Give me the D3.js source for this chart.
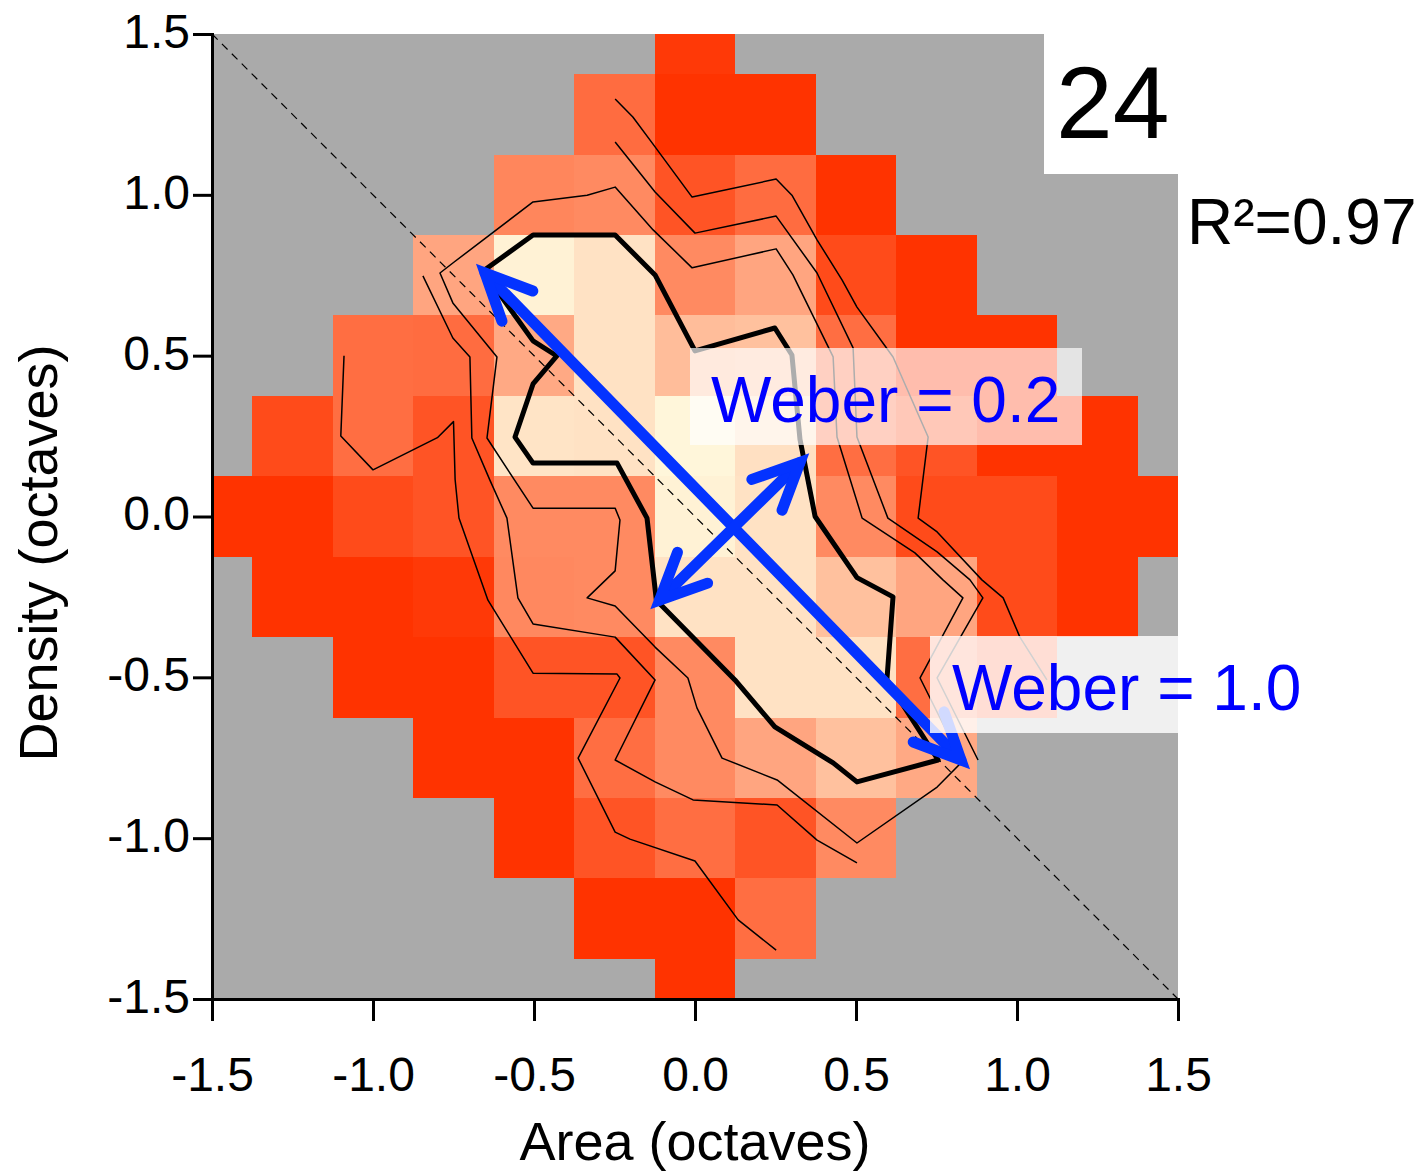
<!DOCTYPE html>
<html>
<head>
<meta charset="utf-8">
<script src="https://cdn.jsdelivr.net/npm/d3@7"></script>
<style>
body { margin: 0; background: #fff; }
text { font-family: "Liberation Sans", Arial, sans-serif; }
</style>
</head>
<body>
<div id="chart"></div>
<script>
// grid of cell centres (octaves)
const xCenters = [-1.5, -1.25, -1.0, -0.75, -0.5, -0.25, 0, 0.25, 0.5, 0.75, 1.0, 1.25, 1.5];
const yCenters = [1.5, 1.25, 1.0, 0.75, 0.5, 0.25, 0, -0.25, -0.5, -0.75, -1.0, -1.25, -1.5];

// normalised cell values (0 = dark red, 1 = pale cream), null = no data
const n = null;
const cellValues = [
    [n, n, n, n, n, n, 0.03, n, n, n, n, n, n],
    [n, n, n, n, n, 0.29, 0, 0, n, n, n, n, n],
    [n, n, n, n, 0.42, 0.44, 0.17, 0.29, 0, n, n, n, n],
    [n, n, n, 0.58, 0.97, 0.89, 0.44, 0.58, 0.12, 0, n, n, n],
    [n, n, 0.3, 0.29, 0.6, 0.89, 0.7, 0.72, 0.3, 0, 0, n, n],
    [n, 0.12, 0.3, 0.17, 0.9, 0.89, 0.99, 0.88, 0.3, 0.17, 0, 0, n],
    [0, 0, 0.12, 0.17, 0.44, 0.44, 0.97, 0.89, 0.44, 0.12, 0.12, 0, 0],
    [n, 0, 0, 0.03, 0.43, 0.44, 0.89, 0.89, 0.72, 0.58, 0.12, 0, n],
    [n, n, 0, 0, 0.17, 0.17, 0.44, 0.89, 0.89, 0.3, 0.12, n, n],
    [n, n, n, 0, 0, 0.3, 0.44, 0.58, 0.72, 0.6, n, n, n],
    [n, n, n, n, 0, 0.17, 0.3, 0.17, 0.44, n, n, n, n],
    [n, n, n, n, n, 0, 0, 0.3, n, n, n, n, n],
    [n, n, n, n, n, n, 0, n, n, n, n, n, n]
];

const xTicks = [-1.5, -1.0, -0.5, 0, 0.5, 1.0, 1.5];
const yTicks = [-1.5, -1.0, -0.5, 0, 0.5, 1.0, 1.5];

// contour lines (area, density)
const contourOuterLeft = [[-1.09, 0.50], [-1.10, 0.25], [-1.0, 0.145], [-0.80, 0.245], [-0.75, 0.295], [-0.745, 0.115],
    [-0.733, -0.005], [-0.643, -0.26], [-0.503, -0.487], [-0.242, -0.49], [-0.233, -0.502], [-0.363, -0.751],
    [-0.248, -0.981], [-0.202, -1.003], [0.0, -1.071], [0.134, -1.254], [0.252, -1.348]];
const contourOuterRight = [[-0.248, 1.298], [-0.193, 1.242], [-0.124, 1.149], [-0.009, 0.993], [0.252, 1.049],
    [0.301, 0.999], [0.379, 0.86], [0.457, 0.735], [0.503, 0.651], [0.615, 0.496], [0.724, 0.247], [0.693, -0.005],
    [0.752, -0.048], [0.891, -0.197], [0.957, -0.253], [1.009, -0.375], [1.093, -0.508]];
const contourMidLeft = [[-0.845, 0.748], [-0.752, 0.555], [-0.699, 0.496], [-0.693, 0.244], [-0.637, 0.113],
    [-0.584, -0.005], [-0.55, -0.253], [-0.503, -0.334], [-0.248, -0.375], [-0.124, -0.508], [-0.248, -0.757],
    [-0.124, -0.825], [-0.006, -0.881], [0.255, -0.897], [0.379, -1.006], [0.503, -1.077]];
const contourMidRight = [[-0.248, 1.164], [-0.124, 1.009], [0.0, 0.881], [0.252, 0.934], [0.379, 0.757],
    [0.491, 0.524], [0.503, 0.247], [0.599, -0.005], [0.752, -0.11], [0.854, -0.197], [0.894, -0.253],
    [0.752, -0.502], [0.879, -0.757]];
const contourInner = [[-0.248, 1.024], [-0.130, 0.891], [-0.009, 0.773], [0.252, 0.832], [0.304, 0.751],
    [0.429, 0.496], [0.441, 0.247], [0.519, -0.005], [0.683, -0.113], [0.770, -0.197], [0.832, -0.253],
    [0.699, -0.502], [0.829, -0.763], [0.752, -0.841], [0.503, -1.015], [0.255, -0.819], [0.084, -0.751],
    [0.006, -0.595], [-0.022, -0.502], [-0.124, -0.406], [-0.248, -0.278], [-0.335, -0.253], [-0.248, -0.169],
    [-0.233, -0.011], [-0.248, 0.026], [-0.503, 0.026], [-0.646, 0.244], [-0.615, 0.496], [-0.752, 0.664],
    [-0.792, 0.757], [-0.752, 0.788], [-0.503, 0.978], [-0.335, 0.999]];
const contourCore = [[-0.658, 0.763], [-0.503, 0.875], [-0.248, 0.875], [-0.124, 0.751], [0.0, 0.515],
    [0.248, 0.586], [0.301, 0.502], [0.326, 0.24], [0.373, 0.0], [0.503, -0.19], [0.615, -0.25], [0.596, -0.508],
    [0.755, -0.757], [0.503, -0.825], [0.429, -0.766], [0.248, -0.654], [0.124, -0.508], [-0.12, -0.26],
    [-0.149, -0.005], [-0.242, 0.166], [-0.503, 0.166], [-0.559, 0.247], [-0.503, 0.412], [-0.429, 0.499],
    [-0.503, 0.546]];

// Weber axes (double headed arrows)
const weberArrows = [
    {from: [-0.652, 0.757], to: [0.826, -0.757]},
    {from: [-0.11, -0.26], to: [0.326, 0.168]}
];

const svgWidth = 1427;
const svgHeight = 1175;
const marginLeft = 212, marginTop = 34, plotW = 966, plotH = 965;

const svg = d3.select("#chart").append("svg")
    .attr("width", svgWidth)
    .attr("height", svgHeight);

const x = d3.scaleLinear().domain([-1.5, 1.5]).range([marginLeft, marginLeft + plotW]);
const y = d3.scaleLinear().domain([-1.5, 1.5]).range([marginTop + plotH, marginTop]);
const color = d3.interpolateRgb("#ff3300", "#fff8dc");

svg.append("clipPath").attr("id", "plot-clip")
    .append("rect")
    .attr("x", marginLeft).attr("y", marginTop)
    .attr("width", plotW).attr("height", plotH);

//grey background for missing cells
svg.append("rect")
    .attr("x", marginLeft).attr("y", marginTop)
    .attr("width", plotW).attr("height", plotH)
    .attr("fill", "#aaaaaa");

const cells = [];
yCenters.forEach((cy, i) => {
    xCenters.forEach((cx, j) => {
        if (cellValues[i][j] !== null) cells.push({cx: cx, cy: cy, v: cellValues[i][j]});
    });
});

const half = 0.125;
svg.append("g")
    .attr("clip-path", "url(#plot-clip)")
    .selectAll("rect")
    .data(cells)
    .join("rect")
    .attr("x", d => x(d.cx - half))
    .attr("y", d => y(d.cy + half))
    .attr("width", x(half) - x(-half))
    .attr("height", y(-half) - y(half))
    .attr("fill", d => color(d.v))
    .attr("shape-rendering", "crispEdges");

// identity diagonal
svg.append("line")
    .attr("x1", x(-1.5)).attr("y1", y(1.5))
    .attr("x2", x(1.5)).attr("y2", y(-1.5))
    .attr("stroke", "#000")
    .attr("stroke-width", 1.2)
    .attr("stroke-dasharray", "8,6");

const line = d3.line().x(d => x(d[0])).y(d => y(d[1]));
const closedLine = d3.line().x(d => x(d[0])).y(d => y(d[1])).curve(d3.curveLinearClosed);

const contours = svg.append("g").attr("fill", "none").attr("stroke", "#000").attr("stroke-linejoin", "round");
[contourOuterLeft, contourOuterRight, contourMidLeft, contourMidRight].forEach(c => {
    contours.append("path").attr("d", line(c)).attr("stroke-width", 1.5);
});
contours.append("path").attr("d", closedLine(contourInner)).attr("stroke-width", 1.5);
contours.append("path").attr("d", closedLine(contourCore)).attr("stroke-width", 5);

// arrows
const arrowG = svg.append("g")
    .attr("fill", "none")
    .attr("stroke", "#0433ff")
    .attr("stroke-width", 11)
    .attr("stroke-linecap", "round")
    .attr("stroke-linejoin", "miter");

function head(tip, tail) {
    const ang = Math.atan2(tail[1] - tip[1], tail[0] - tip[0]);
    const len = 51, spread = 25 * Math.PI / 180;
    const a = [tip[0] + len * Math.cos(ang - spread), tip[1] + len * Math.sin(ang - spread)];
    const b = [tip[0] + len * Math.cos(ang + spread), tip[1] + len * Math.sin(ang + spread)];
    return `M${a[0]},${a[1]}L${tip[0]},${tip[1]}L${b[0]},${b[1]}`;
}

weberArrows.forEach(a => {
    const p1 = [x(a.from[0]), y(a.from[1])];
    const p2 = [x(a.to[0]), y(a.to[1])];
    arrowG.append("path").attr("d", `M${p1[0]},${p1[1]}L${p2[0]},${p2[1]}`);
    arrowG.append("path").attr("d", head(p1, p2));
    arrowG.append("path").attr("d", head(p2, p1));
});

// label boxes
svg.append("rect")
    .attr("x", 690).attr("y", 348)
    .attr("width", 392).attr("height", 97)
    .attr("fill", "#fff").attr("fill-opacity", 0.68);
svg.append("text")
    .attr("x", 711).attr("y", 422)
    .style("font-size", "64px")
    .attr("fill", "#0000ff")
    .text("Weber = 0.2");

svg.append("rect")
    .attr("x", 930).attr("y", 636)
    .attr("width", 380).attr("height", 97)
    .attr("fill", "#fff").attr("fill-opacity", 0.82);
svg.append("text")
    .attr("x", 952).attr("y", 710)
    .style("font-size", "64px")
    .attr("fill", "#0000ff")
    .text("Weber = 1.0");

svg.append("rect")
    .attr("x", 1044).attr("y", marginTop)
    .attr("width", marginLeft + plotW - 1044).attr("height", 140)
    .attr("fill", "#fff");
svg.append("text")
    .attr("x", 1056).attr("y", 138)
    .style("font-size", "102px")
    .text("24");

svg.append("text")
    .attr("x", 1187).attr("y", 244)
    .style("font-size", "64px")
    .text("R²=0.97");

// axes
const xAxis = d3.axisBottom(x)
    .tickValues(xTicks)
    .tickFormat(d => d.toFixed(1))
    .tickSize(22)
    .tickSizeOuter(0)
    .tickPadding(36);
const yAxis = d3.axisLeft(y)
    .tickValues(yTicks)
    .tickFormat(d => d.toFixed(1))
    .tickSize(19)
    .tickSizeOuter(0)
    .tickPadding(3);

const gx = svg.append("g")
    .attr("transform", `translate(0,${marginTop + plotH})`)
    .call(xAxis);
const gy = svg.append("g")
    .attr("transform", `translate(${marginLeft},0)`)
    .call(yAxis);

[gx, gy].forEach(g => {
    g.select(".domain").attr("stroke-width", 3).attr("stroke-linecap", "square");
    g.selectAll(".tick line").attr("stroke-width", 3);
    g.selectAll(".tick text")
        .style("font-size", "48px")
        .style("font-family", '"Liberation Sans", Arial, sans-serif')
        .attr("fill", "#000");
});
gy.selectAll(".tick text").attr("dy", "0.28em");

svg.append("text")
    .attr("x", marginLeft + plotW / 2)
    .attr("y", 1160)
    .attr("text-anchor", "middle")
    .style("font-size", "54px")
    .text("Area (octaves)");

svg.append("text")
    .attr("transform", "translate(57,553) rotate(-90)")
    .attr("text-anchor", "middle")
    .style("font-size", "54px")
    .text("Density (octaves)");
</script>
</body>
</html>
